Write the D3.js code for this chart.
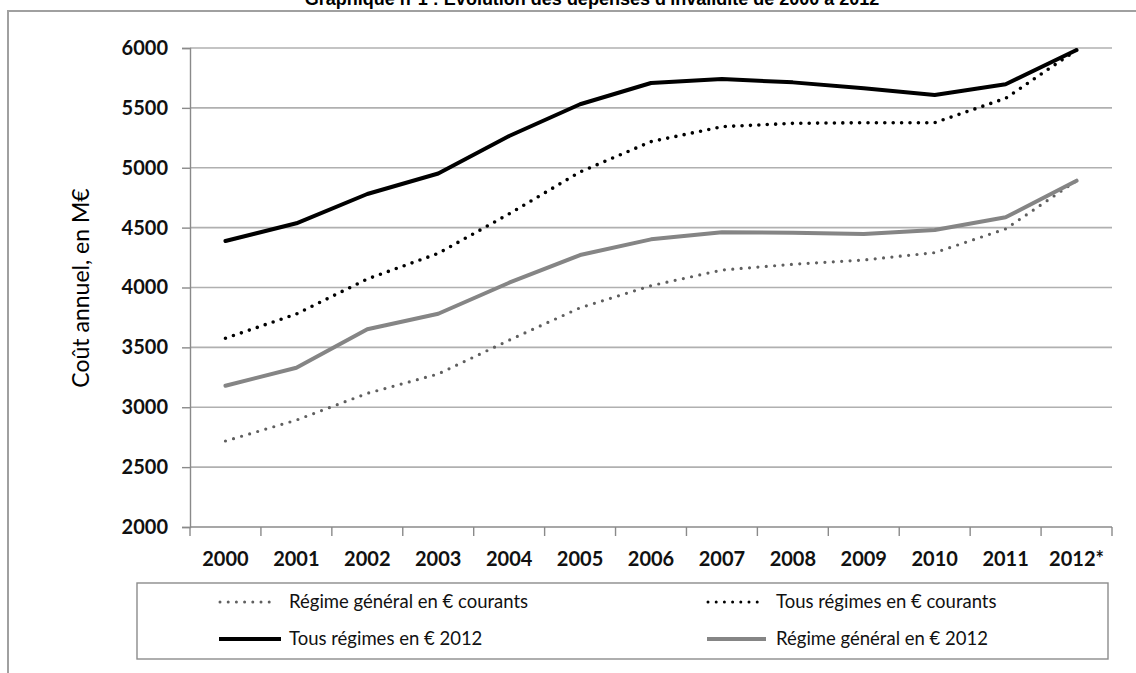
<!DOCTYPE html>
<html lang="fr">
<head>
<meta charset="utf-8">
<script src="https://cdn.jsdelivr.net/npm/d3@7"></script>
<style>
  html, body { margin: 0; padding: 0; background: #fff; }
  svg { display: block; }
</style>
</head>
<body>
<svg id="chart" width="1136" height="673"></svg>
<script>
// Catégories (années) et séries de coûts annuels, en millions d'euros
const years = ["2000", "2001", "2002", "2003", "2004", "2005", "2006",
               "2007", "2008", "2009", "2010", "2011", "2012*"];
const regimeGeneralCourants = [2718, 2893, 3116, 3278, 3560, 3831, 4015, 4146, 4194, 4230, 4291, 4489, 4892];
const tousRegimesCourants   = [3576, 3779, 4071, 4285, 4615, 4965, 5218, 5343, 5371, 5376, 5376, 5580, 5983];
const tousRegimes2012       = [4388, 4536, 4781, 4952, 5265, 5530, 5708, 5741, 5713, 5663, 5608, 5697, 5983];
const regimeGeneral2012     = [3180, 3330, 3651, 3781, 4040, 4271, 4402, 4461, 4458, 4447, 4480, 4586, 4892];
const yTicks = [2000, 2500, 3000, 3500, 4000, 4500, 5000, 5500, 6000];

const titleText = "Graphique n°1 : Évolution des dépenses d'invalidité de 2000 à 2012";
const yTitle = "Coût annuel, en M€";

const series = [
  { name: "Régime général en € courants", values: regimeGeneralCourants, color: "#5f5f5f", width: 3.2, dash: "0,8.4" },
  { name: "Tous régimes en € courants",   values: tousRegimesCourants,   color: "#000000", width: 3.6, dash: "0,8.4" },
  { name: "Tous régimes en € 2012",       values: tousRegimes2012,       color: "#000000", width: 4,   dash: null },
  { name: "Régime général en € 2012",     values: regimeGeneral2012,     color: "#858585", width: 4,   dash: null }
];

const svg = d3.select("#chart");
const font = "Lato, 'Open Sans', sans-serif";

const plot = { left: 190, right: 1112, top: 48, bottom: 527 };

const x = d3.scaleBand().domain(years).range([plot.left, plot.right]).paddingInner(0).paddingOuter(0);
const y = d3.scaleLinear().domain([2000, 6000]).range([plot.bottom, plot.top]);

// Cadre (bords haut et gauche) et titre
svg.append("text")
  .attr("x", 592).attr("y", 5)
  .attr("text-anchor", "middle")
  .attr("font-family", "'Liberation Sans', Arial, sans-serif")
  .attr("font-weight", "bold")
  .attr("font-size", 18)
  .attr("fill", "#000")
  .text(titleText);

svg.append("path")
  .attr("d", `M8,673 L8,11 L1136,11`)
  .attr("fill", "none")
  .attr("stroke", "#a0a0a0")
  .attr("stroke-width", 2);

// Quadrillage horizontal
svg.append("g").selectAll("line")
  .data(yTicks.filter(v => v !== 2000))
  .join("line")
  .attr("x1", plot.left).attr("x2", plot.right)
  .attr("y1", d => y(d)).attr("y2", d => y(d))
  .attr("stroke", "#b0b0b0")
  .attr("stroke-width", 1.6);

// Axe vertical
const yAxis = svg.append("g")
  .attr("transform", `translate(${plot.left},0)`)
  .call(d3.axisLeft(y).tickValues(yTicks).tickSize(8).tickPadding(14).tickFormat(d3.format("d")));
yAxis.select(".domain").attr("stroke", "#8a8a8a").attr("stroke-width", 1.4);
yAxis.selectAll(".tick line").attr("stroke", "#8a8a8a").attr("stroke-width", 1.4);
yAxis.selectAll(".tick text")
  .attr("font-family", font).attr("font-weight", "bold").attr("font-size", 20).attr("fill", "#111");

// Axe horizontal (graduations entre les catégories)
const xAxisG = svg.append("g").attr("transform", `translate(0,${plot.bottom})`);
xAxisG.append("line")
  .attr("x1", plot.left).attr("x2", plot.right)
  .attr("stroke", "#8a8a8a").attr("stroke-width", 1.4);
const boundaries = years.map(d => x(d)).concat([x(years[years.length - 1]) + x.bandwidth()]);
xAxisG.selectAll("line.tk")
  .data(boundaries)
  .join("line").attr("class", "tk")
  .attr("x1", d => d).attr("x2", d => d)
  .attr("y1", 0).attr("y2", 9)
  .attr("stroke", "#8a8a8a").attr("stroke-width", 1.4);
xAxisG.selectAll("text")
  .data(years)
  .join("text")
  .attr("x", d => x(d) + x.bandwidth() / 2)
  .attr("y", 39)
  .attr("text-anchor", "middle")
  .attr("font-family", font).attr("font-weight", "bold").attr("font-size", 20).attr("fill", "#111")
  .text(d => d);

// Titre de l'axe vertical
svg.append("text")
  .attr("transform", `translate(89,288) rotate(-90)`)
  .attr("text-anchor", "middle")
  .attr("font-family", font).attr("font-size", 23).attr("fill", "#000")
  .text(yTitle);

// Courbes
const line = d3.line()
  .x((d, i) => x(years[i]) + x.bandwidth() / 2)
  .y(d => y(d));

svg.append("g").selectAll("path")
  .data(series)
  .join("path")
  .attr("d", s => line(s.values))
  .attr("fill", "none")
  .attr("stroke", s => s.color)
  .attr("stroke-width", s => s.width)
  .attr("stroke-linecap", "round")
  .attr("stroke-linejoin", "round")
  .attr("stroke-dasharray", s => s.dash);

// Légende
const legend = svg.append("g");
legend.append("rect")
  .attr("x", 137).attr("y", 583)
  .attr("width", 971).attr("height", 76)
  .attr("fill", "#fff")
  .attr("stroke", "#8c8c8c").attr("stroke-width", 1.4);

const legendPos = [
  { x1: 220, x2: 277, tx: 289, y: 602 },
  { x1: 708, x2: 764, tx: 776, y: 602 },
  { x1: 219, x2: 281, tx: 289, y: 639 },
  { x1: 707, x2: 766, tx: 776, y: 639 }
];

series.forEach((s, i) => {
  const p = legendPos[i];
  legend.append("line")
    .attr("x1", p.x1).attr("x2", p.x2)
    .attr("y1", p.y).attr("y2", p.y)
    .attr("stroke", s.color)
    .attr("stroke-width", s.dash ? 3 : 4)
    .attr("stroke-linecap", s.dash ? "round" : "butt")
    .attr("stroke-dasharray", s.dash ? "0,8.2" : null);
  legend.append("text")
    .attr("x", p.tx).attr("y", p.y)
    .attr("dy", "0.35em")
    .attr("font-family", font).attr("font-size", 18.5).attr("fill", "#111")
    .text(s.name);
});
</script>
</body>
</html>
